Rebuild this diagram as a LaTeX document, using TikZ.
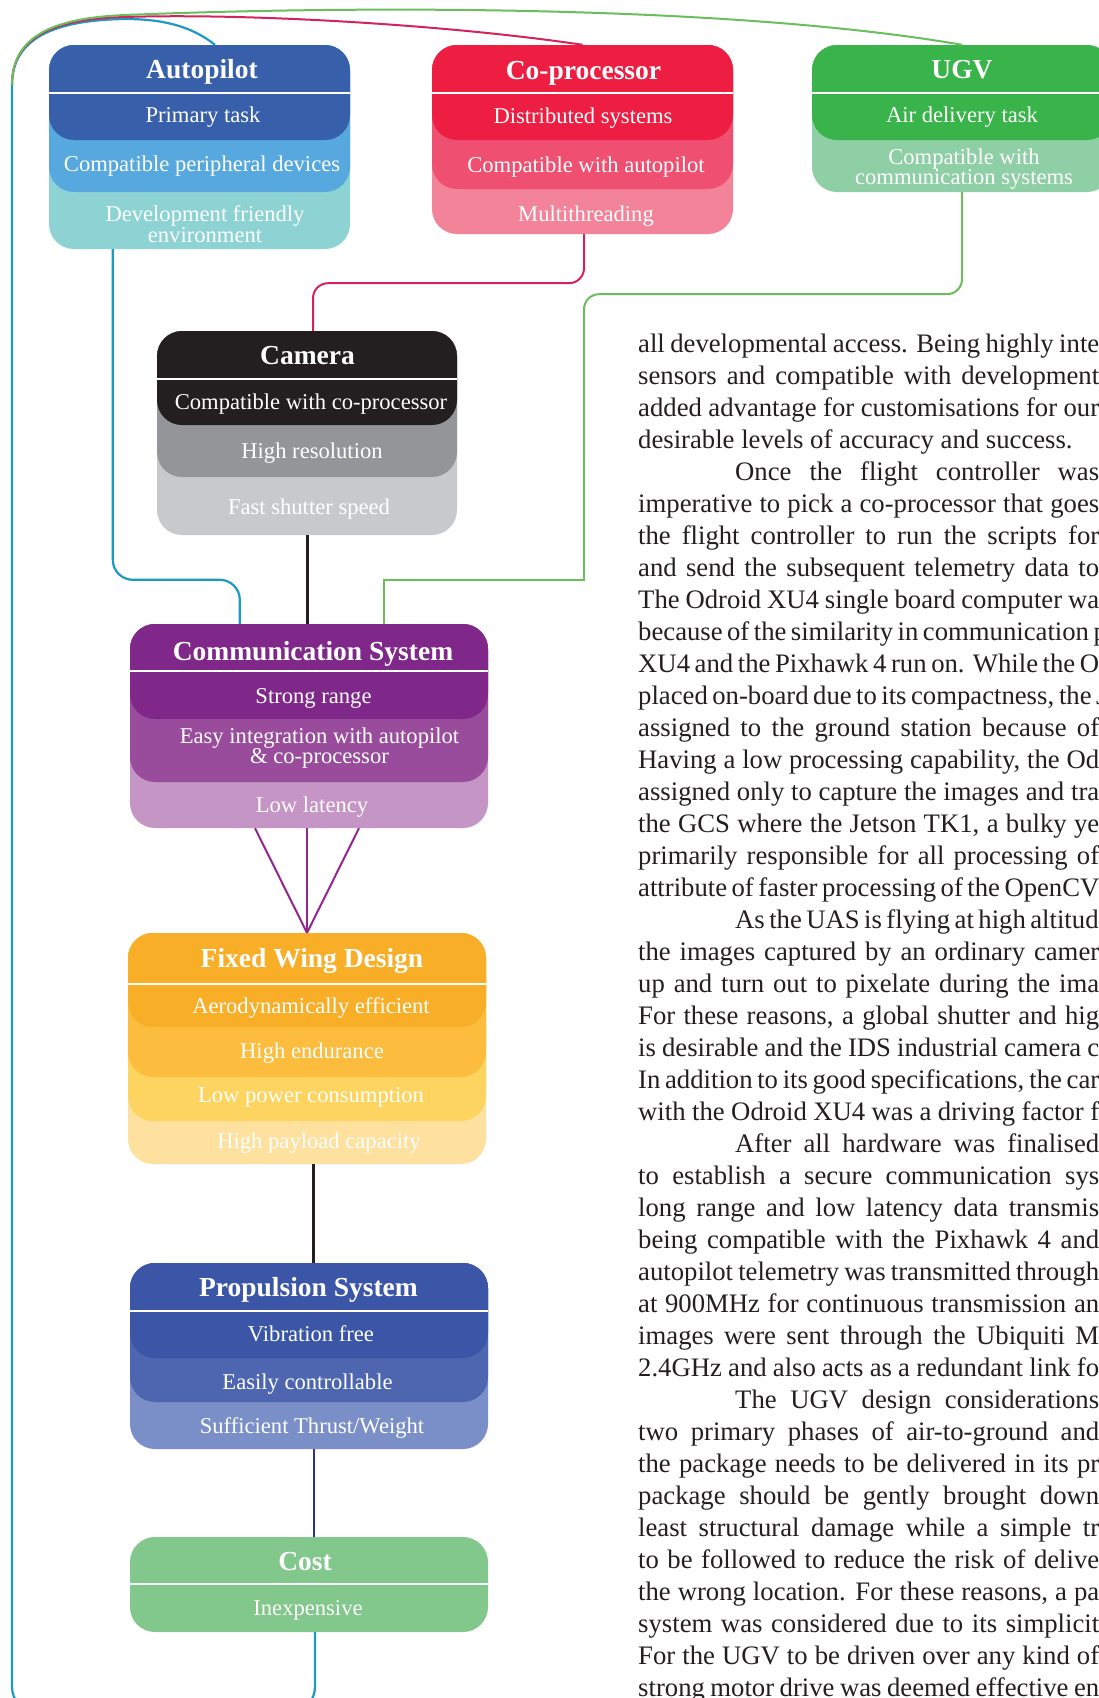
\documentclass[tikz,border=0pt]{standalone}
\usepackage{fontspec}
\setmainfont{Liberation Serif}
\usetikzlibrary{calc}
\definecolor{apdark}{HTML}{3860AA}
\definecolor{apmid}{HTML}{56A8DE}
\definecolor{aplight}{HTML}{8ED3D4}
\definecolor{cpdark}{HTML}{ED1E42}
\definecolor{cpmid}{HTML}{EF5071}
\definecolor{cplight}{HTML}{F28399}
\definecolor{ugdark}{HTML}{38B44A}
\definecolor{uglight}{HTML}{8FCFA6}
\definecolor{camdark}{HTML}{231F20}
\definecolor{cammid}{HTML}{939598}
\definecolor{camlight}{HTML}{C8C9CB}
\definecolor{comdark}{HTML}{80288A}
\definecolor{commid}{HTML}{9A4C9C}
\definecolor{comlight}{HTML}{C495C5}
\definecolor{fwa}{HTML}{F9AE27}
\definecolor{fwb}{HTML}{FCBD3E}
\definecolor{fwc}{HTML}{FDD45F}
\definecolor{fwd}{HTML}{FEE09F}
\definecolor{prdark}{HTML}{3B56A6}
\definecolor{prmid}{HTML}{4E66B0}
\definecolor{prlight}{HTML}{7A8FC8}
\definecolor{costgreen}{HTML}{82C78B}
\definecolor{wirecyan}{HTML}{1B9BC4}
\definecolor{wirered}{HTML}{D2245A}
\definecolor{wiregreen}{HTML}{6ABF5C}
\definecolor{wirepurple}{HTML}{93278F}
\definecolor{wirenavy}{HTML}{2E3192}
\definecolor{inkgrey}{HTML}{231F20}
\tikzset{
  card/.style={rectangle, rounded corners=25pt, inner sep=0pt},
  sepline/.style={draw=white, line width=2.5pt},
  ttl/.style={font=\fontsize{27.5}{30}\selectfont\bfseries, text=white, inner sep=0pt,
              text height=18pt, text depth=0pt},
  itm/.style={font=\fontsize{22.6}{20}\selectfont, text=white, inner sep=0pt,
              text height=15.5pt, text depth=0pt},
  itmtwo/.style={font=\fontsize{22.6}{20.5}\selectfont, text=white, inner sep=0pt, align=center},
  wirec/.style={draw=wirecyan, line width=2.2pt},
  wirer/.style={draw=wirered, line width=2pt},
  wireg/.style={draw=wiregreen, line width=2pt},
  wirek/.style={draw=inkgrey, line width=3pt},
  wirep/.style={draw=wirepurple, line width=2pt},
  wiren/.style={draw=wirenavy, line width=2pt},
  bodyln/.style={anchor=west, inner sep=0pt, text=inkgrey, font=\fontsize{26.7}{32}\selectfont,
              text height=18pt, text depth=0pt},
}

\begin{document}
\begin{tikzpicture}[x=1pt, y=-1pt]
    \clip (0,0) rectangle (1099,1698);
    \fill[white] (0,0) rectangle (1099,1698);

    % top row
    \node[card, fill=aplight, minimum width=301pt, minimum height=204pt] (auto) at (199.5,147) {};
    \node[card, fill=apmid, minimum width=301pt, minimum height=147pt, anchor=north] at (auto.north) {};
    \node[card, fill=apdark, minimum width=301pt, minimum height=95pt, anchor=north] at (auto.north) {};
    \draw[sepline] (49,93) -- (350,93);
    \node[ttl] (autoT) at (202,69) {Autopilot};
    \node[itm] (auto1) at (203,115) {Primary task};
    \node[itm] (auto2) at (202,164) {Compatible peripheral devices};
    \node[itmtwo] (auto3) at (205,224) {Development friendly\\environment};

    \node[card, fill=cplight, minimum width=301pt, minimum height=189pt] (cop) at (582.5,139.5) {};
    \node[card, fill=cpmid, minimum width=301pt, minimum height=144pt, anchor=north] at (cop.north) {};
    \node[card, fill=cpdark, minimum width=301pt, minimum height=95pt, anchor=north] at (cop.north) {};
    \draw[sepline] (432,93) -- (733,93);
    \node[ttl] (copT) at (583.5,70) {Co-processor};
    \node[itm] (cop1) at (583,116) {Distributed systems};
    \node[itm] (cop2) at (586,165) {Compatible with autopilot};
    \node[itm] (cop3) at (586,214) {Multithreading};

    \node[card, fill=uglight, minimum width=300pt, minimum height=147pt] (ugv) at (962,118.5) {};
    \node[card, fill=ugdark, minimum width=300pt, minimum height=95pt, anchor=north] at (ugv.north) {};
    \draw[sepline] (812,93) -- (1112,93);
    \node[ttl] (ugvT) at (962,69) {UGV};
    \node[itm] (ugv1) at (962,115) {Air delivery task};
    \node[itmtwo] (ugv2) at (964,169) {Compatible with\\communication systems};

    % chain
    \node[card, fill=camlight, minimum width=300pt, minimum height=204pt] (cam) at (307,433) {};
    \node[card, fill=cammid, minimum width=300pt, minimum height=146pt, anchor=north] at (cam.north) {};
    \node[card, fill=camdark, minimum width=300pt, minimum height=94pt, anchor=north] at (cam.north) {};
    \draw[sepline] (157,379) -- (457,379);
    \node[ttl] (camT) at (307.5,355) {Camera};
    \node[itm] (cam1) at (311,402) {Compatible with co-processor};
    \node[itm] (cam2) at (312,451) {High resolution};
    \node[itm] (cam3) at (309,507) {Fast shutter speed};

    \node[card, fill=comlight, minimum width=358pt, minimum height=204pt] (comm) at (309,726) {};
    \node[card, fill=commid, minimum width=358pt, minimum height=158pt, anchor=north] at (comm.north) {};
    \node[card, fill=comdark, minimum width=358pt, minimum height=95pt, anchor=north] at (comm.north) {};
    \draw[sepline] (130,671) -- (488,671);
    \node[ttl] (commT) at (313,651) {Communication System};
    \node[itm] (comm1) at (313.5,696) {Strong range};
    \node[itmtwo] (comm2) at (319.5,748) {Easy integration with autopilot\\\& co-processor};
    \node[itm] (comm3) at (312,805) {Low latency};

    \node[card, fill=fwd, minimum width=358pt, minimum height=231pt] (fixed) at (307,1048.5) {};
    \node[card, fill=fwc, minimum width=358pt, minimum height=188pt, anchor=north] at (fixed.north) {};
    \node[card, fill=fwb, minimum width=358pt, minimum height=144pt, anchor=north] at (fixed.north) {};
    \node[card, fill=fwa, minimum width=358pt, minimum height=94pt, anchor=north] at (fixed.north) {};
    \draw[sepline] (128,984) -- (486,984);
    \node[ttl] (fixedT) at (312,958) {Fixed Wing Design};
    \node[itm] (fixed1) at (311,1006) {Aerodynamically efficient};
    \node[itm] (fixed2) at (312,1051) {High endurance};
    \node[itm] (fixed3) at (311,1095) {Low power consumption};
    \node[itm] (fixed4) at (319,1141) {High payload capacity};

    \node[card, fill=prlight, minimum width=358pt, minimum height=186pt] (prop) at (309,1356) {};
    \node[card, fill=prmid, minimum width=358pt, minimum height=139pt, anchor=north] at (prop.north) {};
    \node[card, fill=prdark, minimum width=358pt, minimum height=95pt, anchor=north] at (prop.north) {};
    \draw[sepline] (130,1311) -- (488,1311);
    \node[ttl] (propT) at (308.5,1287) {Propulsion System};
    \node[itm] (prop1) at (311,1334) {Vibration free};
    \node[itm] (prop2) at (307.5,1382) {Easily controllable};
    \node[itm] (prop3) at (312,1426) {Sufficient Thrust/Weight};

    \node[card, fill=costgreen, minimum width=358pt, minimum height=95pt] (cost) at (309,1584.5) {};
    \draw[sepline] (130,1584) -- (488,1584);
    \node[ttl] (costT) at (305,1561) {Cost};
    \node[itm] (cost1) at (308,1608) {Inexpensive};

    % connectors
    \coordinate (trunk) at (12,85);
    \draw[wirec] ($(auto.north)+(15.5,0)$) .. controls (190,25) and (160,19) .. (125,19)
        .. controls (55,20) and (12,38) .. (trunk);
    \draw[wirec, rounded corners=25pt] (trunk) -- (12,1712) -| ($(cost.south)+(6,0)$);
    \draw[wirer] (cop.north) .. controls (450,25) and (250,13) .. (125,17)
        .. controls (55,19) and (12,36) .. (trunk);
    \draw[wireg] (ugv.north) .. controls (750,8) and (400,4) .. (125,15)
        .. controls (55,18) and (12,35) .. (trunk);

    \draw[wirec, rounded corners=20pt] ($(auto.south west)+(64,0)$) |- ($(comm.north west)+(110,-44)$)
        -- ($(comm.north west)+(110,0)$);
    \draw[wirer, rounded corners=15pt] ($(cop.south)+(1.5,0)$) -- ++(0,49) -| ($(cam.north)+(6,0)$);
    \coordinate (gbend) at (584,450);
    \draw[wireg, rounded corners=15pt] (ugv.south) -- ++(0,102) -| (gbend);
    \draw[wireg] (gbend) |- ($(comm.north)+(75,-44)$) -- ($(comm.north)+(75,0)$);
    \draw[wirek] (cam.south) -- (cam.south |- comm.north);
    \foreach \dx in {-54,-2,50}
      \draw[wirep] ($(comm.south)+(\dx,0)$) -- (fixed.north);
    \draw[wirek] ($(fixed.south)+(6,0)$) -- ($(prop.north)+(4,0)$);
    \draw[wiren] ($(prop.south)+(5,0)$) -- ($(cost.south)+(5,-95)$);

    % running text
    \foreach \ln [count=\i] in {
      {all developmental access. Being highly inte},
      {sensors and compatible with development},
      {added advantage for customisations for our},
      {desirable levels of accuracy and success.\hfill},
      {\hspace*{97pt}Once the flight controller was},
      {imperative to pick a co-processor that goes},
      {the flight controller to run the scripts for},
      {and send the subsequent telemetry data to},
      {The Odroid XU4 single board computer wa},
      {because of the similarity in communication p},
      {XU4 and the Pixhawk 4 run on. While the O},
      {placed on-board due to its compactness, the J},
      {assigned to the ground station because of},
      {Having a low processing capability, the Od},
      {assigned only to capture the images and tra},
      {the GCS where the Jetson TK1, a bulky ye},
      {primarily responsible for all processing of},
      {attribute of faster processing of the OpenCV},
      {\hspace*{97pt}As the UAS is flying at high altitude},
      {the images captured by an ordinary camer},
      {up and turn out to pixelate during the ima},
      {For these reasons, a global shutter and hig},
      {is desirable and the IDS industrial camera c},
      {In addition to its good specifications, the car},
      {with the Odroid XU4 was a driving factor f},
      {\hspace*{97pt}After all hardware was finalised},
      {to establish a secure communication sys},
      {long range and low latency data transmis},
      {being compatible with the Pixhawk 4 and},
      {autopilot telemetry was transmitted through},
      {at 900MHz for continuous transmission an},
      {images were sent through the Ubiquiti M},
      {2.4GHz and also acts as a redundant link fo},
      {\hspace*{97pt}The UGV design considerations},
      {two primary phases of air-to-ground and},
      {the package needs to be delivered in its pr},
      {package should be gently brought down},
      {least structural damage while a simple tr},
      {to be followed to reduce the risk of delive},
      {the wrong location. For these reasons, a pa},
      {system was considered due to its simplicit},
      {For the UGV to be driven over any kind of},
      {strong motor drive was deemed effective en}}
      \node[bodyln] (ln\i) at (638,{343+32*(\i-1)}) {\makebox[461pt][s]{\ln}};
\end{tikzpicture}
\end{document}
